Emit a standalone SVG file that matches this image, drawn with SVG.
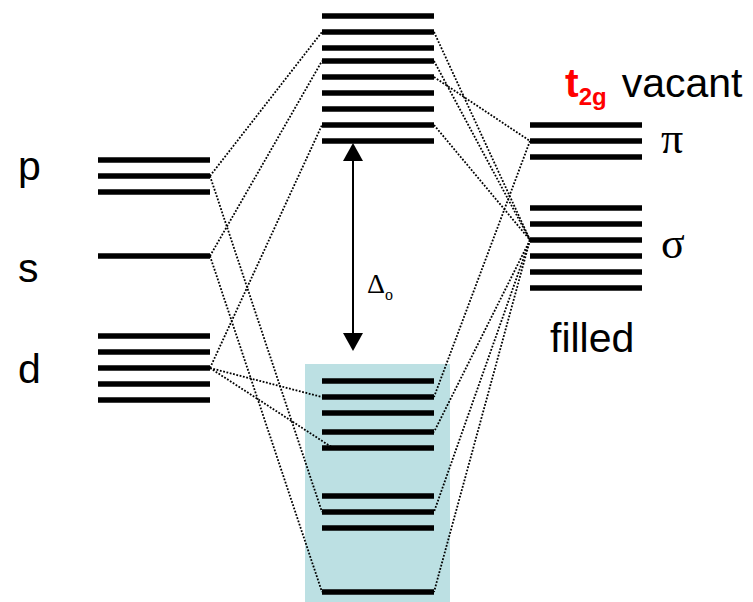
<svg xmlns="http://www.w3.org/2000/svg" width="753" height="602" viewBox="0 0 753 602">
  <style>
    .lvl { stroke: #000; stroke-width: 5.5; }
    .tie { stroke: #000; stroke-width: 1.8; stroke-dasharray: 1.8 1.6; fill: none; }
    .lbl { font-family: "Liberation Sans", Arial, sans-serif; font-size: 41px; fill: #000; }
    .sym { font-family: "Liberation Serif", "Times New Roman", serif; font-size: 44px; fill: #000; }
    .delta { font-family: "Liberation Serif", "Times New Roman", serif; font-size: 28px; fill: #000; }
  </style>

  <rect width="753" height="602" fill="#fff"/>

  <!-- metal atomic orbitals -->
  <g id="metal-p">
    <line class="lvl" x1="98" y1="160" x2="210" y2="160"/>
    <line class="lvl" x1="98" y1="176" x2="210" y2="176"/>
    <line class="lvl" x1="98" y1="192" x2="210" y2="192"/>
    <text class="lbl" x="18" y="180">p</text>
  </g>
  <g id="metal-s">
    <line class="lvl" x1="98" y1="256" x2="210" y2="256"/>
    <text class="lbl" x="18" y="282">s</text>
  </g>
  <g id="metal-d">
    <line class="lvl" x1="98" y1="336" x2="210" y2="336"/>
    <line class="lvl" x1="98" y1="352" x2="210" y2="352"/>
    <line class="lvl" x1="98" y1="368" x2="210" y2="368"/>
    <line class="lvl" x1="98" y1="384" x2="210" y2="384"/>
    <line class="lvl" x1="98" y1="400" x2="210" y2="400"/>
    <text class="lbl" x="18" y="383">d</text>
  </g>

  <!-- antibonding molecular orbitals -->
  <g id="mo-antibonding">
    <line class="lvl" x1="322" y1="16" x2="434" y2="16"/>
    <line class="lvl" x1="322" y1="32" x2="434" y2="32"/>
    <line class="lvl" x1="322" y1="48" x2="434" y2="48"/>
    <line class="lvl" x1="322" y1="61" x2="434" y2="61"/>
    <line class="lvl" x1="322" y1="77" x2="434" y2="77"/>
    <line class="lvl" x1="322" y1="93" x2="434" y2="93"/>
    <line class="lvl" x1="322" y1="109" x2="434" y2="109"/>
    <line class="lvl" x1="322" y1="125" x2="434" y2="125"/>
    <line class="lvl" x1="322" y1="141" x2="434" y2="141"/>
  </g>

  <!-- bonding molecular orbitals (filled) -->
  <g id="mo-bonding">
    <rect x="305" y="364" width="145" height="238" fill="#bce0e3"/>
    <line class="lvl" x1="322" y1="381" x2="434" y2="381"/>
    <line class="lvl" x1="322" y1="397" x2="434" y2="397"/>
    <line class="lvl" x1="322" y1="413" x2="434" y2="413"/>
    <line class="lvl" x1="322" y1="432" x2="434" y2="432"/>
    <line class="lvl" x1="322" y1="448" x2="434" y2="448"/>
    <line class="lvl" x1="322" y1="496" x2="434" y2="496"/>
    <line class="lvl" x1="322" y1="512" x2="434" y2="512"/>
    <line class="lvl" x1="322" y1="528" x2="434" y2="528"/>
    <line class="lvl" x1="322" y1="592" x2="434" y2="592"/>
  </g>

  <!-- ligand group orbitals -->
  <g id="ligand-pi">
    <line class="lvl" x1="530" y1="125" x2="642" y2="125"/>
    <line class="lvl" x1="530" y1="141" x2="642" y2="141"/>
    <line class="lvl" x1="530" y1="157" x2="642" y2="157"/>
    <text class="sym" x="661" y="153">π</text>
  </g>
  <g id="ligand-sigma">
    <line class="lvl" x1="530" y1="208" x2="642" y2="208"/>
    <line class="lvl" x1="530" y1="224" x2="642" y2="224"/>
    <line class="lvl" x1="530" y1="240" x2="642" y2="240"/>
    <line class="lvl" x1="530" y1="256" x2="642" y2="256"/>
    <line class="lvl" x1="530" y1="272" x2="642" y2="272"/>
    <line class="lvl" x1="530" y1="288" x2="642" y2="288"/>
    <text class="sym" x="661" y="258">σ</text>
  </g>

  <g id="label-vacant">
    <text class="lbl" x="565" y="97"><tspan fill="#ff0000" font-weight="bold">t</tspan><tspan fill="#ff0000" font-weight="bold" font-size="24" dy="8">2g</tspan><tspan dy="-8" dx="15">vacant</tspan></text>
  </g>
  <g id="label-filled">
    <text class="lbl" x="550" y="352">filled</text>
  </g>

  <!-- ligand-field splitting -->
  <g id="splitting">
    <line x1="353" y1="158" x2="353" y2="336" stroke="#000" stroke-width="2"/>
    <path d="M353,143 L343,161 L363,161 Z" fill="#000"/>
    <path d="M353,351 L343,333 L363,333 Z" fill="#000"/>
    <text class="delta" x="367" y="293">Δ<tspan font-size="16" dy="7">o</tspan></text>
  </g>

  <!-- orbital correlation lines -->
  <g id="connectors">
    <line class="tie" x1="210" y1="176" x2="322" y2="32"/>
    <line class="tie" x1="210" y1="256" x2="322" y2="61"/>
    <line class="tie" x1="210" y1="368" x2="322" y2="125"/>
    <line class="tie" x1="210" y1="176" x2="322" y2="512"/>
    <line class="tie" x1="210" y1="256" x2="322" y2="592"/>
    <line class="tie" x1="210" y1="368" x2="322" y2="397"/>
    <line class="tie" x1="210" y1="368" x2="333" y2="448"/>

    <line class="tie" x1="434" y1="32" x2="530" y2="240"/>
    <line class="tie" x1="434" y1="61" x2="530" y2="240"/>
    <line class="tie" x1="434" y1="77" x2="530" y2="141"/>
    <line class="tie" x1="434" y1="125" x2="530" y2="240"/>
    <line class="tie" x1="530" y1="141" x2="434" y2="397"/>
    <line class="tie" x1="530" y1="240" x2="434" y2="432"/>
    <line class="tie" x1="530" y1="240" x2="434" y2="512"/>
    <line class="tie" x1="530" y1="240" x2="434" y2="592"/>
  </g>
</svg>
